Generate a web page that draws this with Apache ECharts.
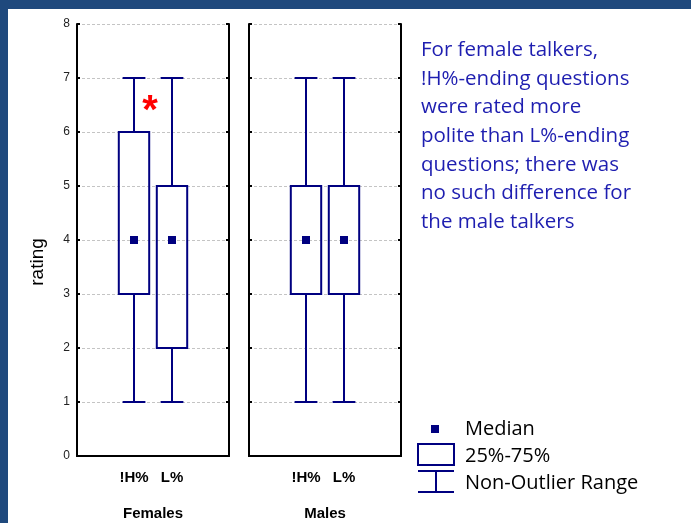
<!DOCTYPE html>
<html>
<head>
<meta charset="utf-8">
<script src="https://cdn.jsdelivr.net/npm/echarts@6/dist/echarts.min.js"></script>
<style>
html, body { margin: 0; padding: 0; background: #fff; }
#chart { width: 691px; height: 523px; }
</style>
</head>
<body>
<div id="chart"></div>
<script>
// 数据
var groupNames = ['Females', 'Males'];
var categories = ['', '!H%', 'L%', ''];
// [min, q1, median, q3, max] for !H% and L%
var femaleStats = [[1, 3, 4, 6, 7], [1, 2, 4, 5, 7]];
var maleStats = [[1, 3, 4, 5, 7], [1, 3, 4, 5, 7]];
var yMin = 0, yMax = 8, yStep = 1;
var noteLines = [
	'For female talkers,',
	'!H%-ending questions',
	'were rated more',
	'polite than L%-ending',
	'questions; there was',
	'no such difference for',
	'the male talkers'
];

var navy = '#000080';
var panelLeft = [77, 249];
var txtFont = '"Open Sans", sans-serif';
var axFont = '"Liberation Sans", Arial, sans-serif';

var chart = echarts.init(document.getElementById('chart'));

function boxData(stats) {
	return stats.map(function (s, i) {
		return [i + 1].concat(s);
	});
}

// 箱体 + 须线
function renderBox(params, api) {
	var x = api.value(0);
	var pMin = api.coord([x, api.value(1)]);
	var pQ1 = api.coord([x, api.value(2)]);
	var pQ3 = api.coord([x, api.value(4)]);
	var pMax = api.coord([x, api.value(5)]);
	var band = api.size([1, 0])[0];
	var cx = Math.round(pMin[0]);
	var bw = band * 0.8, cw = band * 0.6;
	var st = { stroke: navy, lineWidth: 2, fill: null };
	return {
		type: 'group',
		children: [
			{ type: 'rect', shape: { x: cx - bw / 2, y: pQ3[1], width: bw, height: pQ1[1] - pQ3[1] }, style: st },
			{ type: 'line', shape: { x1: cx, y1: pMax[1], x2: cx, y2: pQ3[1] }, style: st },
			{ type: 'line', shape: { x1: cx, y1: pQ1[1], x2: cx, y2: pMin[1] }, style: st },
			{ type: 'line', shape: { x1: cx - cw / 2, y1: pMax[1], x2: cx + cw / 2, y2: pMax[1] }, style: st },
			{ type: 'line', shape: { x1: cx - cw / 2, y1: pMin[1], x2: cx + cw / 2, y2: pMin[1] }, style: st }
		]
	};
}

var grids = [], xAxes = [], yAxes = [], series = [];
var allStats = [femaleStats, maleStats];
var tickStyle = { alignWithLabel: true, inside: true, length: 3, lineStyle: { color: '#000', width: 2 } };

groupNames.forEach(function (name, g) {
	grids.push({ left: panelLeft[g], top: 24, width: 152, height: 432, containLabel: false, outerBoundsMode: 'none' });
	// 下方类别轴
	xAxes.push({
		type: 'category', gridIndex: g, data: categories, position: 'bottom',
		axisLine: { lineStyle: { color: '#000', width: 2 } },
		axisTick: tickStyle,
		axisLabel: { margin: 14, color: '#000', fontWeight: 'bold', fontSize: 15, fontFamily: axFont },
		name: name, nameLocation: 'middle', nameGap: 50,
		nameTextStyle: { color: '#000', fontWeight: 'bold', fontSize: 15, fontFamily: axFont }
	});
	// 上方镜像刻度
	xAxes.push({
		type: 'category', gridIndex: g, data: categories, position: 'top',
		axisLine: { lineStyle: { color: '#000', width: 2 } },
		axisTick: tickStyle,
		axisLabel: { show: false }
	});
	yAxes.push({
		type: 'value', gridIndex: g, min: yMin, max: yMax, interval: yStep, position: 'left',
		axisLine: { show: true, lineStyle: { color: '#000', width: 2 } },
		axisTick: { show: true, inside: true, length: 3, lineStyle: { color: '#000', width: 2 } },
		axisLabel: { show: g === 0, color: '#222', fontSize: 12, margin: 7, fontFamily: axFont },
		splitLine: { show: true, lineStyle: { color: '#c4c4c4', type: [3, 2], width: 1 } }
	});
	yAxes.push({
		type: 'value', gridIndex: g, min: yMin, max: yMax, interval: yStep, position: 'right',
		axisLine: { show: true, lineStyle: { color: '#000', width: 2 } },
		axisTick: { show: true, inside: true, length: 3, lineStyle: { color: '#000', width: 2 } },
		axisLabel: { show: false },
		splitLine: { show: false }
	});
	series.push({
		type: 'custom', xAxisIndex: g * 2, yAxisIndex: g * 2,
		renderItem: renderBox,
		encode: { x: 0, y: [1, 2, 3, 4, 5] },
		data: boxData(allStats[g]),
		silent: true
	});
	// 中位数
	series.push({
		type: 'scatter', xAxisIndex: g * 2, yAxisIndex: g * 2,
		symbol: 'rect', symbolSize: 8,
		itemStyle: { color: navy, opacity: 1 },
		data: allStats[g].map(function (s, i) { return [i + 1, s[2]]; }),
		silent: true
	});
});

var graphics = [
	{ type: 'rect', shape: { x: 0, y: 0, width: 691, height: 9 }, style: { fill: '#1F497D' } },
	{ type: 'rect', shape: { x: 0, y: 0, width: 8, height: 523 }, style: { fill: '#1F497D' } },
	// y轴标题
	{ type: 'text', x: 38, y: 262, rotation: Math.PI / 2, style: { text: 'rating', fill: '#000', font: '19px ' + axFont, align: 'center', verticalAlign: 'middle' } },
	// 显著性标记
	{ type: 'text', x: 150, y: 112, style: { text: '*', fill: '#ff0000', font: 'bold 40px ' + axFont, align: 'center', verticalAlign: 'middle' } },
	// 图例
	{ type: 'rect', shape: { x: 431, y: 425, width: 8, height: 8 }, style: { fill: navy } },
	{ type: 'rect', shape: { x: 418, y: 444, width: 36, height: 21 }, style: { fill: null, stroke: navy, lineWidth: 2 } },
	{ type: 'polyline', shape: { points: [[418, 471], [454, 471]] }, style: { stroke: navy, lineWidth: 2 } },
	{ type: 'polyline', shape: { points: [[418, 492], [454, 492]] }, style: { stroke: navy, lineWidth: 2 } },
	{ type: 'polyline', shape: { points: [[436, 471], [436, 492]] }, style: { stroke: navy, lineWidth: 2 } },
	{ type: 'text', x: 465, y: 429, style: { text: 'Median', fill: '#000', font: '20px ' + txtFont, verticalAlign: 'middle' } },
	{ type: 'text', x: 465, y: 456, style: { text: '25%-75%', fill: '#000', font: '20px ' + txtFont, verticalAlign: 'middle' } },
	{ type: 'text', x: 465, y: 483, style: { text: 'Non-Outlier Range', fill: '#000', font: '20px ' + txtFont, verticalAlign: 'middle' } }
];
noteLines.forEach(function (t, i) {
	graphics.push({ type: 'text', x: 421, y: 50 + i * 28.7, style: { text: t, fill: '#1E1EB0', font: '20.5px ' + txtFont, verticalAlign: 'middle' } });
});

chart.setOption({
	animation: false,
	backgroundColor: '#fff',
	grid: grids,
	xAxis: xAxes,
	yAxis: yAxes,
	series: series,
	graphic: graphics
});
</script>
</body>
</html>
